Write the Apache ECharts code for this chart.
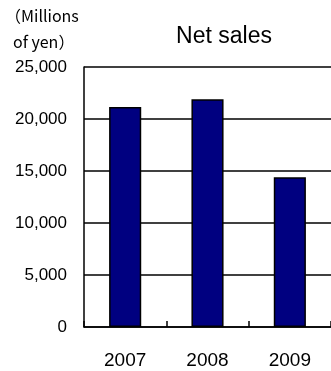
<!DOCTYPE html>
<html><head><meta charset="utf-8">
<script src="https://cdn.jsdelivr.net/npm/echarts@6/dist/echarts.min.js"></script>
<style>html,body{margin:0;padding:0;background:#fff}#c{width:331px;height:371px}</style>
</head><body><div id="c"></div>
<script>
const categories = ['2007', '2008', '2009'];
const netSales = [21150, 21900, 14400];
const yTicks = [0, 5000, 10000, 15000, 20000, 25000];
const titleText = 'Net sales';
const unitLines = ['（Millions', 'of yen）'];

const FONT = '"Liberation Sans", Arial, sans-serif';
const chart = echarts.init(document.getElementById('c'), null, {renderer: 'canvas'});
chart.setOption({
  animation: false,
  backgroundColor: '#fff',
  title: {
    text: titleText, left: 219, top: 20, textAlign: 'center',
    textStyle: {fontFamily: FONT, fontSize: 23, fontWeight: 'normal', color: '#000'}
  },
  graphic: [
    {type: 'text', left: 5, top: 8, style: {text: unitLines[0], font: '16px "Noto Sans CJK JP", sans-serif', fill: '#000'}},
    {type: 'text', left: 13, top: 34, style: {text: unitLines[1], font: '16px "Noto Sans CJK JP", sans-serif', fill: '#000'}}
  ],
  grid: {left: 84, right: -5, top: 67, bottom: 44, containLabel: false},
  xAxis: {
    type: 'category', data: categories,
    axisLine: {lineStyle: {color: '#000', width: 1.5}},
    axisTick: {show: true, inside: true, length: 6, lineStyle: {color: '#000', width: 1.5}},
    axisLabel: {margin: 24, fontFamily: FONT, fontSize: 19, color: '#000'}
  },
  yAxis: {
    type: 'value', min: yTicks[0], max: yTicks[yTicks.length - 1], interval: yTicks[1] - yTicks[0],
    axisLine: {show: true, lineStyle: {color: '#000', width: 1.5}},
    axisTick: {show: false},
    splitLine: {show: true, lineStyle: {color: '#000', width: 1.5}},
    axisLabel: {margin: 17, fontFamily: FONT, fontSize: 17, color: '#000', padding: [4, 0, 0, 0],
      formatter: v => v.toLocaleString('en-US')}
  },
  series: [{
    type: 'bar', data: netSales, barWidth: '39%',
    itemStyle: {color: '#000080', borderColor: '#000', borderWidth: 1.5}
  }]
});
</script></body></html>
